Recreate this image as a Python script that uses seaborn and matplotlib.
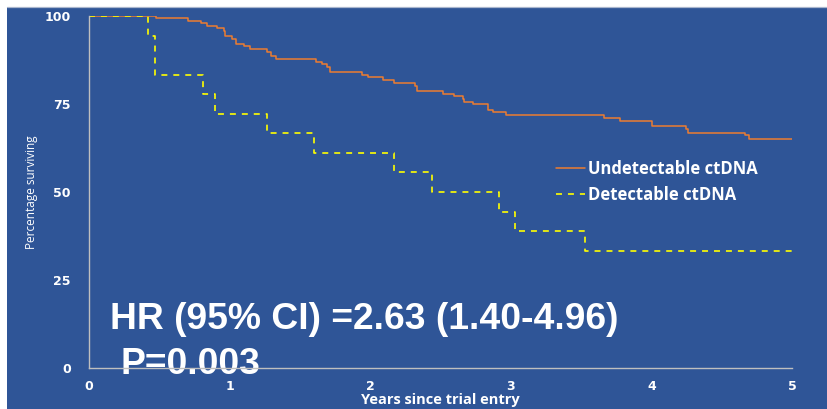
import matplotlib
matplotlib.use("Agg")
import matplotlib.pyplot as plt
from matplotlib.patches import Rectangle
from matplotlib.lines import Line2D
import seaborn as sns
import pandas as pd

# Kaplan-Meier survival estimates (step functions, % surviving)
undetect_t = [0, 0.476, 0.706, 0.794, 0.837, 0.908, 0.960, 0.967, 1.019, 1.043,
              1.105, 1.145, 1.268, 1.294, 1.328, 1.614, 1.654, 1.690, 1.714, 1.940,
              1.987, 2.093, 2.169, 2.319, 2.335, 2.515, 2.596, 2.658, 2.667, 2.733,
              2.835, 2.875, 2.966, 3.665, 3.777, 4.007, 4.246, 4.262, 4.666, 4.696,
              5.0]
undetect_s = [100, 99.3, 98.7, 97.9, 97.2, 96.5, 95.7, 94.3, 93.6, 92.1,
              91.4, 90.6, 89.9, 88.5, 87.7, 87.0, 86.3, 85.5, 84.1, 83.3,
              82.6, 81.7, 81.0, 80.2, 78.7, 77.9, 77.2, 76.4, 75.7, 74.9,
              73.4, 72.6, 71.8, 71.0, 70.3, 68.7, 67.9, 66.8, 66.1, 65.1,
              65.1]

detect_t = [0, 0.417, 0.469, 0.813, 0.896, 1.268, 1.600, 2.167, 2.440, 2.918,
            3.030, 3.528, 5.0]
detect_s = [100, 94.4, 83.3, 77.8, 72.2, 66.7, 61.1, 55.6, 50.0, 44.4,
            38.9, 33.3, 33.3]

group_labels = ["Undetectable ctDNA", "Detectable ctDNA"]
x_ticks = [0, 1, 2, 3, 4, 5]
y_ticks = [0, 25, 50, 75, 100]
hr_text = "HR (95% CI) =2.63 (1.40-4.96)"
p_text = "P=0.003"

BLUE = "#2F5597"
ORANGE = "#ED7D31"
YELLOW = "#FFFF00"
GREY = "#BFBFBF"

sns.set_theme(style="white")
plt.rcParams["font.family"] = ["DejaVu Sans"]
plt.rcParams["lines.scale_dashes"] = False

W, H = 827, 409
fig = plt.figure(figsize=(W / 100, H / 100), dpi=100)
fig.patch.set_facecolor("white")

# slide-style blue panel with a thin white margin at top and left
panel = Rectangle((7 / W, 0), 1, (H - 6.5) / H, transform=fig.transFigure,
                  facecolor=BLUE, edgecolor="none", zorder=-10)
fig.add_artist(panel)
fig.add_artist(Line2D([7 / W, 1], [(H - 6.5) / H] * 2, transform=fig.transFigure,
                      color="#A9B6CE", lw=0.9, zorder=-9))

ax = fig.add_axes([89 / W, (H - 368) / H, 703 / W, 352 / H])
ax.set_zorder(1)
ax.patch.set_alpha(0)

df_u = pd.DataFrame({"t": undetect_t, "s": undetect_s})
df_d = pd.DataFrame({"t": detect_t, "s": detect_s})

sns.lineplot(data=df_u, x="t", y="s", ax=ax, color=ORANGE, lw=1.1,
             drawstyle="steps-post", estimator=None, label=group_labels[0], zorder=3)
sns.lineplot(data=df_d, x="t", y="s", ax=ax, color=YELLOW, lw=1.2,
             drawstyle="steps-post", estimator=None, label=group_labels[1],
             zorder=4)
ax.lines[1].set_dashes((4.3, 4.3))

ax.set_xlim(0, 5)
ax.set_ylim(0, 100)
ax.set_xticks(x_ticks)
ax.set_yticks(y_ticks)
ax.tick_params(axis="both", length=0, colors="white", labelsize=9)
ax.tick_params(axis="y", pad=13)
ax.tick_params(axis="x", pad=9)
for lab in ax.get_xticklabels() + ax.get_yticklabels():
    lab.set_fontweight("bold")

for side in ("top", "right"):
    ax.spines[side].set_visible(False)
for side in ("left", "bottom"):
    ax.spines[side].set_color(GREY)
    ax.spines[side].set_linewidth(1.0)
    ax.spines[side].set_zorder(5)

ax.set_xlabel("Years since trial entry", color="white", fontsize=10.5,
              fontweight="bold", family=["Open Sans", "DejaVu Sans"])
ax.xaxis.label.set_va("baseline")
ax.xaxis.set_label_coords(0.5, (368 - 404) / 352)
ax.set_ylabel("Percentage surviving", color="white", fontsize=8.5,
              family=["Open Sans", "DejaVu Sans"])
ax.yaxis.label.set_va("center")
ax.yaxis.set_label_coords((32 - 89) / 703, 0.5)

leg = ax.legend(loc="upper left", bbox_to_anchor=((556 - 89) / 703, (368 - 160) / 352),
                frameon=False, borderaxespad=0, borderpad=0, handlelength=1.75,
                handletextpad=0.2, labelspacing=0.45,
                prop={"family": ["Open Sans", "DejaVu Sans"], "weight": "bold", "size": 12})
for t in leg.get_texts():
    t.set_color("white")
leg.get_lines()[1].set_dashes((4.3, 4.3))

ax.text(110 / W, (H - 329.3) / H, hr_text, transform=fig.transFigure, color="white",
        fontsize=26.8, fontweight="bold", family=["Liberation Sans", "DejaVu Sans"],
        va="baseline", ha="left", zorder=2)
ax.text(120 / W, (H - 374) / H, p_text, transform=fig.transFigure, color="white",
        fontsize=26.8, fontweight="bold", family=["Liberation Sans", "DejaVu Sans"],
        va="baseline", ha="left", zorder=2)

fig.savefig("out.png", dpi=100, facecolor=fig.get_facecolor())
